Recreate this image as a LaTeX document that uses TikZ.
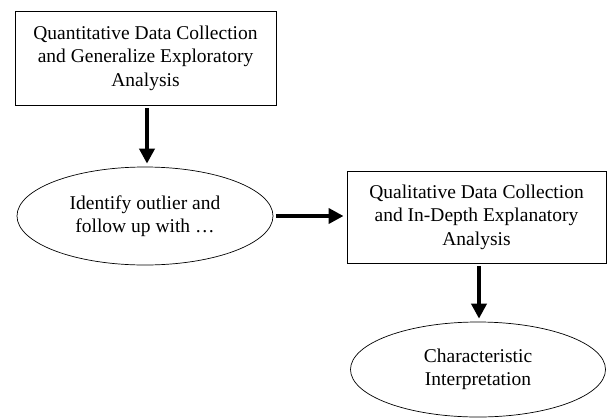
\documentclass[tikz,border=0pt]{standalone}
\usepackage{fontspec}
\setmainfont{Liberation Serif}
\usetikzlibrary{shapes.geometric,arrows.meta}
\begin{document}
\begin{tikzpicture}[x=1pt,y=-1pt,
  every node/.style={font=\fontsize{19.5}{23.5}\selectfont, align=center, inner sep=0pt},
  boxnode/.style={draw, line width=0.9pt, rectangle},
  ellnode/.style={draw, line width=0.7pt, ellipse},
  flow/.style={line width=4.5pt, -{Triangle[width=15pt,length=15pt]}, shorten <=2.5pt, shorten >=3pt}
]
\useasboundingbox (0,0) rectangle (607,418);
\node[boxnode, minimum width=261pt, minimum height=94pt] (b1) at (145.5,58) {Quantitative Data Collection\\and Generalize Exploratory\\Analysis};
\node[ellnode, minimum width=256pt, minimum height=98pt] (e1) at (145,216) {Identify outlier and\\follow up with \dots};
\node[boxnode, minimum width=259pt, minimum height=92pt] (b2) at (476.5,217) {Qualitative Data Collection\\and In-Depth Explanatory\\Analysis};
\node[ellnode, minimum width=255pt, minimum height=95pt] (e2) at (478,369.5) {Characteristic\\Interpretation};
\draw[flow] (b1.south -| 147,0) -- (e1.north -| 147,0);
\draw[flow] (e1.east) -- (b2.west |- e1.east);
\draw[flow] (b2.south -| 479,0) -- (e2.north -| 479,0);
\end{tikzpicture}
\end{document}
